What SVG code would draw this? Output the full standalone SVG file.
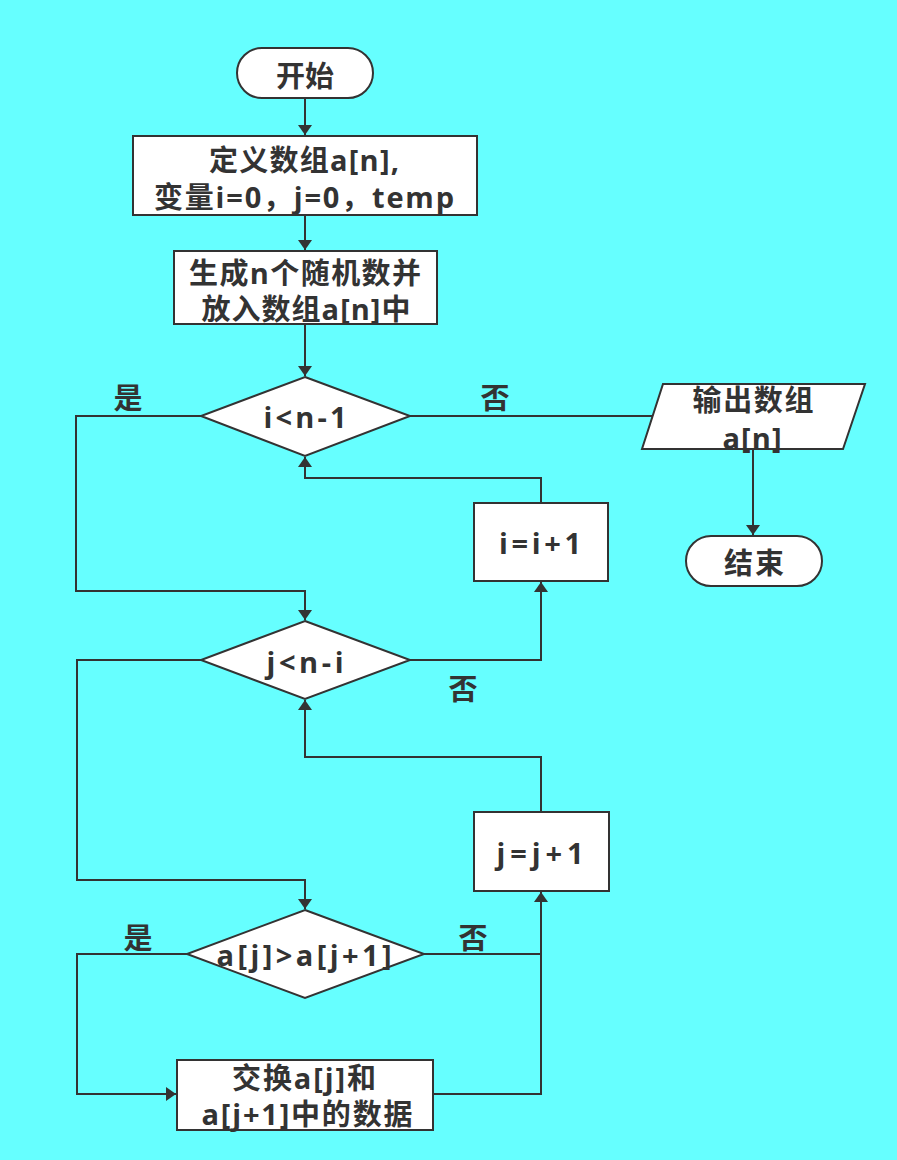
<svg xmlns="http://www.w3.org/2000/svg" width="897" height="1160" viewBox="0 0 897 1160">
<style>
.shape{fill:#ffffff;stroke:#333333;stroke-width:2}
.ln{fill:none;stroke:#333333;stroke-width:2}
text{font-family:"Open Sans","Noto Sans CJK SC",sans-serif;font-weight:bold;font-size:29px;fill:#333333;text-anchor:middle;dominant-baseline:central}
</style>
<defs>
<marker id="ah" markerWidth="10" markerHeight="14" refX="10" refY="7" orient="auto" markerUnits="userSpaceOnUse">
<path d="M0,0 L10,7 L0,14 Z" fill="#333333"/>
</marker>
</defs>
<rect width="897" height="1160" fill="#66FFFF"/>
<g id="connectors">
<path class="ln" d="M305,98 L305,135" marker-end="url(#ah)"/>
<path class="ln" d="M305,215 L305,250" marker-end="url(#ah)"/>
<path class="ln" d="M305,324 L305,376" marker-end="url(#ah)"/>
<path class="ln" d="M201,416 L76,416 L76,591 L305,591 L305,620" marker-end="url(#ah)"/>
<path class="ln" d="M410,416 L652,416"/>
<path class="ln" d="M753,449 L753,535" marker-end="url(#ah)"/>
<path class="ln" d="M541,503 L541,478 L305,478 L305,457" marker-end="url(#ah)"/>
<path class="ln" d="M410,660 L541,660 L541,582" marker-end="url(#ah)"/>
<path class="ln" d="M201,660 L77,660 L77,880 L305,880 L305,909" marker-end="url(#ah)"/>
<path class="ln" d="M541,812 L541,757 L305,757 L305,700" marker-end="url(#ah)"/>
<path class="ln" d="M424,954 L541,954 L541,892" marker-end="url(#ah)"/>
<path class="ln" d="M187,954 L77,954 L77,1094 L176,1094" marker-end="url(#ah)"/>
<path class="ln" d="M433,1094 L541,1094 L541,954"/>
</g>
<g id="start">
<rect class="shape" x="237" y="48" width="136" height="50" rx="25" ry="25"/>
<text x="305" y="75" textLength="58" lengthAdjust="spacing">开始</text>
</g>
<g id="define">
<rect class="shape" x="133" y="136" width="344" height="79"/>
<text x="304" y="159" textLength="190" lengthAdjust="spacing">定义数组a[n],</text>
<text x="304" y="196" textLength="300" lengthAdjust="spacing">变量i=0，j=0，temp</text>
</g>
<g id="generate">
<rect class="shape" x="174" y="251" width="263" height="73"/>
<text x="305" y="272" textLength="232" lengthAdjust="spacing">生成n个随机数并</text>
<text x="306" y="308" textLength="209" lengthAdjust="spacing">放入数组a[n]中</text>
</g>
<g id="cond-i">
<polygon class="shape" points="305,377 410,416 305,456 201,416"/>
<text x="305" y="416" textLength="83" lengthAdjust="spacing">i&lt;n-1</text>
</g>
<g id="label-yes1"><text x="128" y="397">是</text></g>
<g id="label-no1"><text x="495" y="397">否</text></g>
<g id="output">
<polygon class="shape" points="663,384 865,384 843,449 642,449"/>
<text x="753" y="399" textLength="121" lengthAdjust="spacing">输出数组</text>
<text x="752" y="437" textLength="59" lengthAdjust="spacing">a[n]</text>
</g>
<g id="end">
<rect class="shape" x="686" y="536" width="136" height="50" rx="25" ry="25"/>
<text x="754" y="562" textLength="60" lengthAdjust="spacing">结束</text>
</g>
<g id="inc-i">
<rect class="shape" x="474" y="503" width="134" height="78"/>
<text x="540" y="542" textLength="82" lengthAdjust="spacing">i=i+1</text>
</g>
<g id="cond-j">
<polygon class="shape" points="305,621 410,660 305,699 201,660"/>
<text x="305" y="661" textLength="77" lengthAdjust="spacing">j&lt;n-i</text>
</g>
<g id="label-no2"><text x="463" y="688">否</text></g>
<g id="inc-j">
<rect class="shape" x="474" y="812" width="135" height="79"/>
<text x="540" y="852" textLength="87" lengthAdjust="spacing">j=j+1</text>
</g>
<g id="cond-cmp">
<polygon class="shape" points="305,910 424,954 305,998 187,954"/>
<text x="304" y="954" textLength="175" lengthAdjust="spacing">a[j]&gt;a[j+1]</text>
</g>
<g id="label-yes3"><text x="138" y="937">是</text></g>
<g id="label-no3"><text x="473" y="937">否</text></g>
<g id="swap">
<rect class="shape" x="177" y="1060" width="256" height="70"/>
<text x="304" y="1077" textLength="144" lengthAdjust="spacing">交换a[j]和</text>
<text x="307" y="1113" textLength="211" lengthAdjust="spacing">a[j+1]中的数据</text>
</g>
</svg>
